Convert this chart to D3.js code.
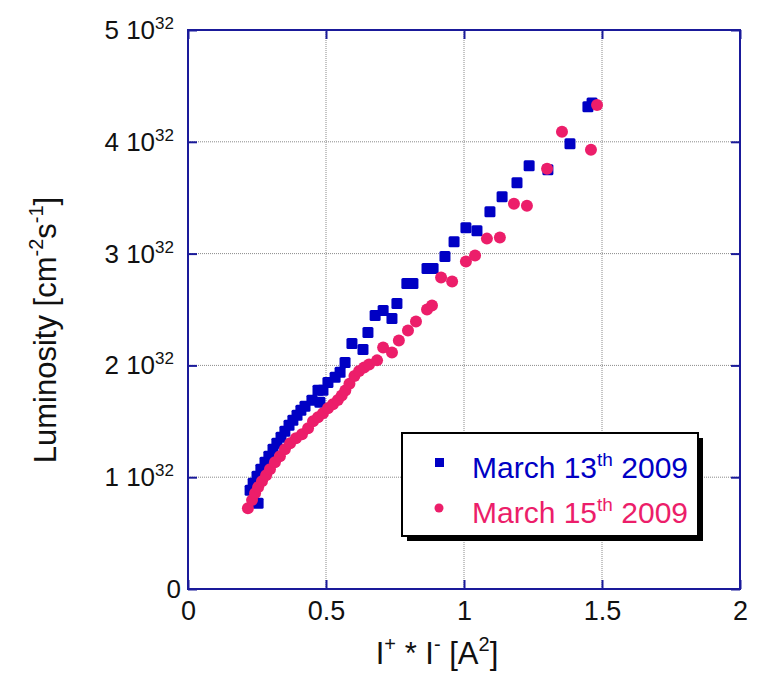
<!DOCTYPE html>
<html>
<head>
<meta charset="utf-8">
<script src="https://cdn.jsdelivr.net/npm/d3@7"></script>
<style>
  html, body { margin: 0; padding: 0; background: #fff; }
  svg { display: block; font-family: "Liberation Sans", Arial, sans-serif; }
</style>
</head>
<body>
<div id="chart"></div>
<script>
// luminosity in units of 1e32 cm^-2 s^-1, x = I+ * I- [A^2]
const march13 = [
  [0.225, 0.884], [0.254, 0.768], [0.236, 0.946], [0.250, 1.009], [0.264, 1.071],
  [0.279, 1.134], [0.293, 1.188], [0.308, 1.250], [0.322, 1.304], [0.337, 1.357],
  [0.351, 1.411], [0.366, 1.464], [0.380, 1.509], [0.395, 1.554], [0.409, 1.598],
  [0.424, 1.634], [0.449, 1.688], [0.478, 1.670], [0.471, 1.777], [0.489, 1.777],
  [0.507, 1.848], [0.533, 1.893], [0.551, 1.938], [0.569, 2.027], [0.594, 2.196],
  [0.634, 2.143], [0.652, 2.295], [0.678, 2.446], [0.707, 2.491], [0.739, 2.420],
  [0.757, 2.554], [0.793, 2.732], [0.815, 2.732], [0.866, 2.866], [0.888, 2.866],
  [0.931, 2.973], [0.964, 3.107], [1.007, 3.232], [1.047, 3.205], [1.094, 3.375],
  [1.138, 3.509], [1.192, 3.634], [1.236, 3.786], [1.304, 3.750], [1.384, 3.982],
  [1.449, 4.313], [1.464, 4.348]
];

const march15 = [
  [0.217, 0.723], [0.232, 0.795], [0.243, 0.857], [0.254, 0.911], [0.268, 0.964],
  [0.283, 1.018], [0.297, 1.071], [0.315, 1.134], [0.333, 1.188], [0.351, 1.250],
  [0.370, 1.304], [0.391, 1.348], [0.413, 1.384], [0.435, 1.438], [0.453, 1.500],
  [0.471, 1.536], [0.489, 1.571], [0.507, 1.616], [0.525, 1.652], [0.543, 1.690],
  [0.557, 1.730], [0.570, 1.775], [0.585, 1.835], [0.603, 1.905], [0.620, 1.950],
  [0.638, 1.982], [0.656, 2.009], [0.685, 2.045], [0.707, 2.161], [0.739, 2.116],
  [0.764, 2.223], [0.797, 2.313], [0.826, 2.393], [0.866, 2.500], [0.884, 2.536],
  [0.917, 2.786], [0.957, 2.750], [1.007, 2.929], [1.040, 2.982], [1.083, 3.134],
  [1.130, 3.143], [1.181, 3.446], [1.228, 3.429], [1.301, 3.759], [1.355, 4.089],
  [1.460, 3.929], [1.482, 4.330]
];

const xTicks = [0, 0.5, 1, 1.5, 2];
const xTickLabels = ["0", "0.5", "1", "1.5", "2"];
const yTicks = [0, 1, 2, 3, 4, 5];
const legendLabels = [
  { day: "13", sup: "th", year: "2009" },
  { day: "15", sup: "th", year: "2009" }
];

const width = 760, height = 679;
const blue = "#0000c4";
const pink = "#ec1e6a";
const frameColor = "#1a1a9a";

const x = d3.scaleLinear().domain([0, 2]).range([188, 740]);
const y = d3.scaleLinear().domain([0, 5]).range([589, 30]);

const svg = d3.select("#chart").append("svg")
  .attr("width", width)
  .attr("height", height);

// grid
const grid = svg.append("g")
  .attr("stroke", "#8a8a8a")
  .attr("stroke-width", 1)
  .attr("stroke-dasharray", "1,1");
grid.selectAll("line.gx")
  .data(xTicks.slice(1, -1))
  .join("line")
  .attr("x1", (d) => x(d)).attr("x2", (d) => x(d))
  .attr("y1", y(0)).attr("y2", y(5));
grid.selectAll("line.gy")
  .data(yTicks.slice(1, -1))
  .join("line")
  .attr("class", "gy")
  .attr("x1", x(0)).attr("x2", x(2))
  .attr("y1", (d) => y(d)).attr("y2", (d) => y(d));

// axes (ticks inside, mirrored on all four sides)
const tickLen = 9;
const axes = svg.append("g");
axes.append("g")
  .attr("transform", `translate(0,${y(0)})`)
  .call(d3.axisBottom(x).tickValues(xTicks).tickSize(-tickLen).tickFormat((d, i) => xTickLabels[i]))
  .call((g) => g.selectAll(".tick text").attr("y", 5).attr("dy", "0.95em"));
axes.append("g")
  .attr("transform", `translate(0,${y(5)})`)
  .call(d3.axisTop(x).tickValues(xTicks).tickSize(-tickLen).tickFormat(""));
axes.append("g")
  .attr("transform", `translate(${x(0)},0)`)
  .call(d3.axisLeft(y).tickValues(yTicks).tickSize(-tickLen).tickFormat(""));
axes.append("g")
  .attr("transform", `translate(${x(2)},0)`)
  .call(d3.axisRight(y).tickValues(yTicks).tickSize(-tickLen).tickFormat(""));

axes.selectAll(".domain").remove();
axes.selectAll(".tick line").attr("stroke", frameColor).attr("stroke-width", 2);
axes.selectAll(".tick text")
  .attr("font-size", 27)
  .attr("fill", "#111")
  .attr("font-family", "Liberation Sans, Arial, sans-serif");

// frame
svg.append("rect")
  .attr("x", x(0)).attr("y", y(5))
  .attr("width", x(2) - x(0)).attr("height", y(0) - y(5))
  .attr("fill", "none")
  .attr("stroke", frameColor)
  .attr("stroke-width", 2);

// y tick labels with powers of ten
const yLab = svg.append("g").attr("font-size", 26).attr("fill", "#111");
yLab.selectAll("text")
  .data(yTicks)
  .join("text")
  .attr("x", (d) => (d === 0 ? 181 : 174))
  .attr("y", (d) => y(d) + 9)
  .attr("text-anchor", "end")
  .each(function (d) {
    const t = d3.select(this);
    if (d === 0) {
      t.append("tspan").text("0");
      return;
    }
    t.append("tspan").text(`${d} 10`);
    t.append("tspan").attr("dy", -10).attr("font-size", 17).text("32");
  });

// data points
svg.append("g")
  .attr("fill", blue)
  .selectAll("rect")
  .data(march13)
  .join("rect")
  .attr("x", (d) => x(d[0]) - 5.5)
  .attr("y", (d) => y(d[1]) - 5.5)
  .attr("width", 11)
  .attr("height", 11)
  .attr("rx", 1.5);

svg.append("g")
  .attr("fill", pink)
  .selectAll("circle")
  .data(march15)
  .join("circle")
  .attr("cx", (d) => x(d[0]))
  .attr("cy", (d) => y(d[1]))
  .attr("r", 6);

// axis titles
svg.append("text")
  .attr("x", 437)
  .attr("y", 664)
  .attr("text-anchor", "middle")
  .attr("font-size", 31)
  .attr("fill", "#111")
  .call((t) => {
    t.append("tspan").text("I");
    t.append("tspan").attr("dy", -13).attr("font-size", 20).text("+");
    t.append("tspan").attr("dy", 13).text(" * I");
    t.append("tspan").attr("dy", -13).attr("font-size", 20).text("-");
    t.append("tspan").attr("dy", 13).text(" [A");
    t.append("tspan").attr("dy", -13).attr("font-size", 20).text("2");
    t.append("tspan").attr("dy", 13).text("]");
  });

svg.append("text")
  .attr("transform", "translate(56,330) rotate(-90)")
  .attr("text-anchor", "middle")
  .attr("font-size", 31)
  .attr("fill", "#111")
  .call((t) => {
    t.append("tspan").text("Luminosity [cm");
    t.append("tspan").attr("dy", -13).attr("font-size", 20).text("-2");
    t.append("tspan").attr("dy", 13).text("s");
    t.append("tspan").attr("dy", -13).attr("font-size", 20).text("-1");
    t.append("tspan").attr("dy", 13).text("]");
  });

// legend
const lg = svg.append("g");
lg.append("rect")
  .attr("x", 407).attr("y", 438)
  .attr("width", 296).attr("height", 103)
  .attr("fill", "#000");
lg.append("rect")
  .attr("x", 402).attr("y", 433)
  .attr("width", 296).attr("height", 103)
  .attr("fill", "#fff")
  .attr("stroke", "#000")
  .attr("stroke-width", 2);

lg.append("rect")
  .attr("x", 435).attr("y", 458)
  .attr("width", 9).attr("height", 9)
  .attr("fill", blue);
lg.append("circle")
  .attr("cx", 439).attr("cy", 508)
  .attr("r", 4.5)
  .attr("fill", pink);

lg.selectAll("text")
  .data(legendLabels)
  .join("text")
  .attr("x", 472)
  .attr("y", (d, i) => 478 + i * 45)
  .attr("font-size", 30)
  .attr("fill", (d, i) => (i === 0 ? blue : pink))
  .each(function (d) {
    const t = d3.select(this);
    t.append("tspan").text(`March ${d.day}`);
    t.append("tspan").attr("dy", -12).attr("font-size", 19).text(d.sup);
    t.append("tspan").attr("dy", 12).text(` ${d.year}`);
  });
</script>
</body>
</html>
